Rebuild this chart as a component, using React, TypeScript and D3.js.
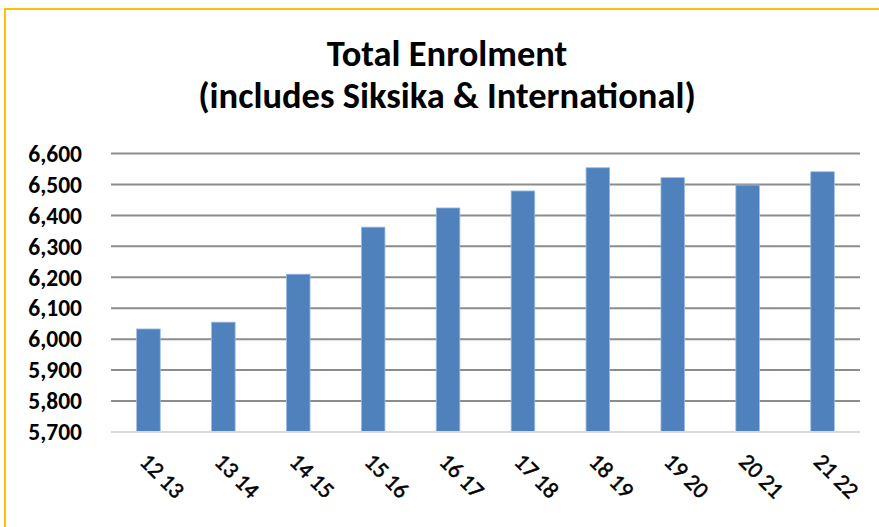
import React from "react";
import * as d3 from "d3";

const categories = ["12 13", "13 14", "14 15", "15 16", "16 17", "17 18", "18 19", "19 20", "20 21", "21 22"];
const enrolment = [6033, 6055, 6210, 6362, 6424, 6479, 6554, 6522, 6498, 6541];
const yTicks = [5700, 5800, 5900, 6000, 6100, 6200, 6300, 6400, 6500, 6600];
const titleLines = ["Total Enrolment", "(includes Siksika & International)"];

const W = 879;
const H = 527;
const margin = { left: 111, right: 19, top: 153.5, bottom: 95 };

export default function App() {
  const x = d3
    .scaleBand<string>()
    .domain(categories)
    .range([margin.left, W - margin.right])
    .paddingInner(0.685)
    .paddingOuter(0.3425);
  const y = d3.scaleLinear().domain([5700, 6600]).range([H - margin.bottom, margin.top]);
  const fmt = d3.format(",");
  const font = "Carlito, 'Open Sans', 'Liberation Sans', sans-serif";

  return (
    <svg width={W} height={H} style={{ position: "absolute", left: 0, top: 0 }}>
      <rect x={0} y={0} width={W} height={H} fill="#fff" />
      <rect x={5} y={9} width={W} height={H} fill="none" stroke="#FFC000" strokeWidth={2} />
      {titleLines.map((t, i) => (
        <text
          key={t}
          x={447}
          y={66 + i * 41.5}
          textAnchor="middle"
          fontFamily={font}
          fontWeight="bold"
          fontSize={36.5}
          fill="#000"
        >
          {t}
        </text>
      ))}
      {yTicks.map((v) => (
        <g key={v}>
          {v !== 5700 && (
            <line
              x1={margin.left}
              x2={W - margin.right}
              y1={y(v)}
              y2={y(v)}
              stroke="#8c8c8c"
              strokeWidth={2}
            />
          )}
          <text
            x={82}
            y={y(v)}
            dy="0.35em"
            textAnchor="end"
            fontFamily={font}
            fontWeight="bold"
            fontSize={23.5}
            fill="#000"
          >
            {fmt(v)}
          </text>
        </g>
      ))}
      {categories.map((c, i) => (
        <rect
          key={c}
          x={x(c)}
          y={y(enrolment[i])}
          width={x.bandwidth()}
          height={y(5700) - y(enrolment[i])}
          fill="#4F81BD"
          stroke="#9dbbe0"
          strokeWidth={0.8}
        />
      ))}
      <line
        x1={margin.left}
        x2={W - margin.right}
        y1={y(5700)}
        y2={y(5700)}
        stroke="#d9d9d9"
        strokeWidth={2}
      />
      {categories.map((c) => {
        const cx = (x(c) as number) + x.bandwidth() / 2;
        return (
          <text
            key={c}
            transform={`translate(${cx - 10},${463}) rotate(45)`}
            textAnchor="start"
            fontFamily={font}
            fontSize={23}
            fill="#000"
            stroke="#000"
            strokeWidth={0.5}
          >
            {c}
          </text>
        );
      })}
    </svg>
  );
}
